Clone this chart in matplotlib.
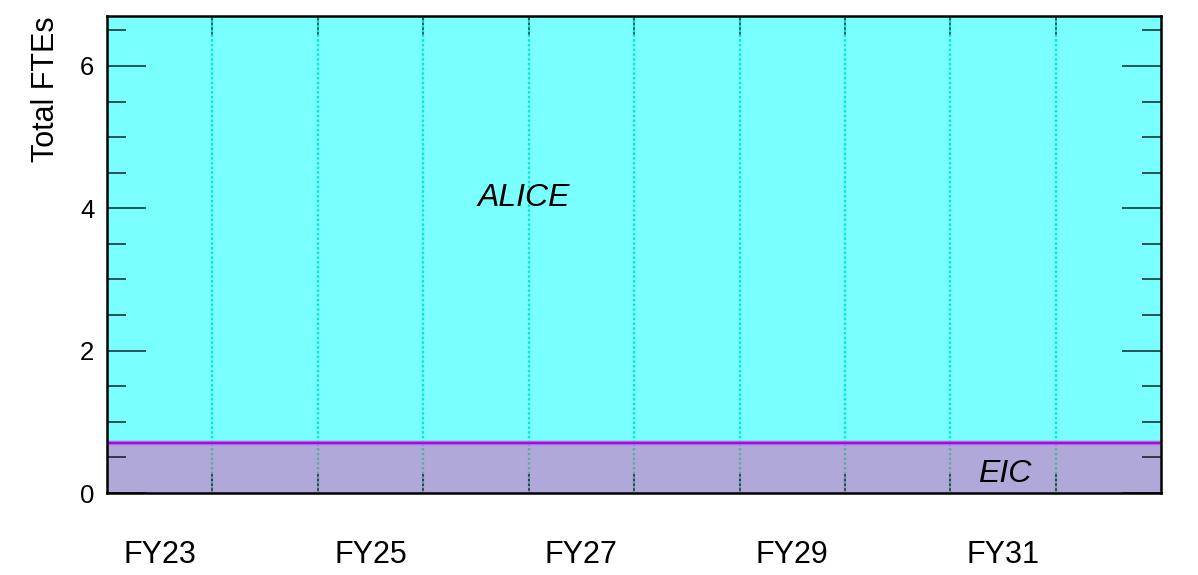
import matplotlib.pyplot as plt
import numpy as np
from matplotlib.ticker import MultipleLocator

plt.rcParams['font.family'] = ['Liberation Sans', 'DejaVu Sans']

# fiscal years (one bin each)
years = ['FY23', 'FY24', 'FY25', 'FY26', 'FY27', 'FY28', 'FY29', 'FY30', 'FY31', 'FY32']
eic = [0.7, 0.7, 0.7, 0.7, 0.7, 0.7, 0.7, 0.7, 0.7, 0.7]
alice = [6.0, 6.0, 6.0, 6.0, 6.0, 6.0, 6.0, 6.0, 6.0, 6.0]

n = len(years)
edges = np.arange(n + 1)
eic_s = np.append(eic, eic[-1])
tot_s = eic_s + np.append(alice, alice[-1])

fig = plt.figure(figsize=(11.98, 5.75), dpi=100)
ax = fig.add_axes([0.0893, 0.1426, 0.8800, 0.8294])

ax.fill_between(edges, 0, eic_s, step='post', color='#afa8d8', lw=0, zorder=1)
ax.fill_between(edges, eic_s, tot_s, step='post', color='#7affff', lw=0, zorder=1)

# year separators (dotted)
for x in edges[1:-1]:
    ax.plot([x, x], [eic_s[x], tot_s[x]], color='#00e8d0', ls=(0, (1.0, 1.0)), lw=1.7, zorder=2)
    ax.plot([x, x], [0, eic_s[x]], color='#5fa9a9', ls=(0, (1.0, 1.0)), lw=1.7, zorder=2)

# boundary between the two groups
ax.step(edges, eic_s, where='post', color='#a070ee', lw=3.2, zorder=3)
ax.step(edges, eic_s, where='post', color='#b800d8', lw=1.5, zorder=3)

ax.set_xlim(0, n)
ax.set_ylim(0, 6.7)

ax.text(3.95, 4.15, 'ALICE', style='italic', fontsize=23, ha='center', va='center', zorder=4)
ax.text(8.52, 0.26, 'EIC', style='italic', fontsize=23, ha='center', va='center', zorder=4)

# x: tick marks at bin edges, labels at bin centres
ax.set_xticks(edges[1:-1], minor=True)
ax.set_xticks(np.arange(0, n, 2) + 0.5, [years[i] for i in range(0, n, 2)])
ax.tick_params(axis='x', which='major', length=0, pad=34, labelsize=22)
ax.tick_params(axis='x', which='minor', direction='in', length=14, width=1.1,
               color=(0, 0, 0, 0.85), top=True, bottom=True)

ax.yaxis.set_major_locator(MultipleLocator(2))
ax.yaxis.set_minor_locator(MultipleLocator(0.5))
ax.tick_params(axis='y', which='major', direction='in', length=28, width=1.1,
               color=(0, 0, 0, 0.85), left=True, right=True, labelsize=18.5, pad=9)
ax.tick_params(axis='y', which='minor', direction='in', length=14, width=1.1,
               color=(0, 0, 0, 0.85), left=True, right=True)
ax.set_ylabel('Total FTEs', fontsize=22, labelpad=14, loc='top')

for s in ax.spines.values():
    s.set_linewidth(1.8)
    s.set_zorder(5)

plt.savefig('out.png', dpi=100)
